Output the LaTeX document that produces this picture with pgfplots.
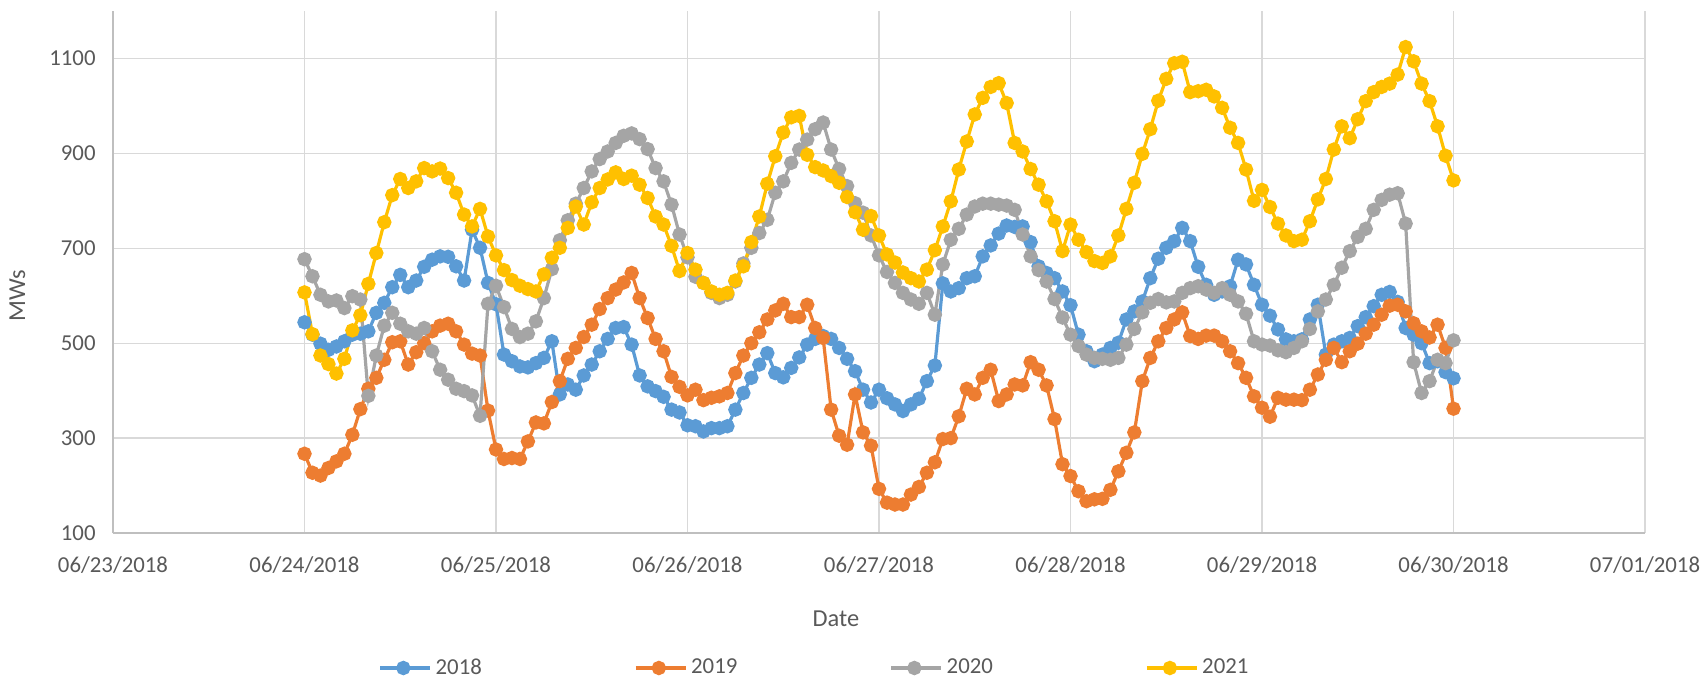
\documentclass[border=0pt]{standalone}
\usepackage{pgfplots}
\usepackage{pgfplotstable}
\pgfplotsset{compat=1.18}
\usepackage{fontspec}
\setmainfont{Carlito}
\definecolor{c18}{HTML}{5B9BD5}
\definecolor{c19}{HTML}{ED7D31}
\definecolor{c20}{HTML}{A5A5A5}
\definecolor{c21}{HTML}{FFC000}
\definecolor{gridc}{HTML}{D9D9D9}
\definecolor{axisc}{HTML}{BFBFBF}
\definecolor{tickc}{HTML}{595959}
\pgfplotstableread{
h a b c d
0 544 267 677 607
1 518 227 641 519
2 499 221 602 474
3 486 237 588 456
4 493 251 590 436
5 504 267 574 467
6 518 307 599 527
7 520 361 592 559
8 525 404 389 625
9 564 427 474 690
10 585 465 537 755
11 618 502 564 812
12 644 504 541 846
13 618 455 525 827
14 632 481 520 841
15 661 500 532 869
16 676 525 483 862
17 683 537 444 868
18 682 541 423 848
19 662 525 404 817
20 632 497 399 771
21 739 478 390 746
22 701 474 347 783
23 627 358 583 725
24 582 276 621 685
25 476 256 576 654
26 462 258 530 633
27 451 256 513 621
28 449 293 520 614
29 458 333 546 609
30 469 331 595 645
31 504 376 656 680
32 392 420 717 701
33 413 467 759 743
34 402 490 794 788
35 432 513 827 750
36 455 539 862 797
37 483 572 888 827
38 509 595 904 845
39 532 613 922 860
40 534 628 937 846
41 497 648 942 853
42 432 595 930 834
43 409 553 909 806
44 399 509 869 767
45 387 483 841 750
46 360 429 792 705
47 354 408 729 652
48 327 390 681 690
49 325 402 640 655
50 314 380 627 627
51 321 385 606 609
52 321 388 595 602
53 325 395 602 606
54 360 437 630 632
55 395 474 668 662
56 427 500 701 713
57 455 523 732 767
58 479 550 760 836
59 437 569 817 894
60 428 583 841 944
61 448 555 880 976
62 470 555 908 979
63 497 581 929 897
64 509 532 951 871
65 515 511 965 864
66 509 360 908 852
67 490 305 867 838
68 467 286 831 808
69 441 392 795 776
70 402 312 775 739
71 375 284 727 768
72 402 193 685 727
73 384 164 650 687
74 371 160 627 670
75 357 160 606 649
76 371 181 592 637
77 383 197 583 630
78 420 227 606 655
79 453 249 560 696
80 626 298 666 746
81 609 300 718 799
82 616 346 741 866
83 637 404 771 925
84 641 392 788 982
85 683 427 794 1017
86 706 444 794 1040
87 731 378 792 1048
88 748 392 790 1006
89 745 413 781 922
90 746 411 729 904
91 713 460 683 867
92 662 444 654 834
93 648 411 630 799
94 637 340 593 757
95 609 245 554 694
96 580 220 518 750
97 518 188 494 718
98 483 167 476 692
99 462 171 469 673
100 476 172 467 669
101 490 191 465 683
102 501 230 469 727
103 550 269 497 783
104 567 312 530 838
105 588 420 565 899
106 637 469 585 951
107 678 504 593 1011
108 701 532 586 1057
109 715 550 588 1090
110 743 565 606 1093
111 715 515 616 1029
112 661 509 620 1031
113 623 516 613 1034
114 602 516 606 1020
115 609 504 616 996
116 620 483 602 954
117 676 458 588 922
118 666 427 562 866
119 623 388 504 800
120 581 364 497 823
121 558 345 495 787
122 529 385 485 752
123 508 381 481 727
124 504 381 490 715
125 508 380 504 718
126 550 402 530 757
127 581 434 567 803
128 476 465 592 846
129 497 490 623 908
130 504 460 659 957
131 511 483 694 932
132 536 499 724 972
133 555 520 741 1010
134 578 539 781 1029
135 602 560 802 1040
136 608 579 813 1047
137 587 581 816 1066
138 532 567 752 1124
139 518 542 460 1094
140 500 525 395 1047
141 458 512 420 1010
142 462 539 465 957
143 439 490 458 895
144 426 362 506 843
}\data

\begin{document}
\begin{tikzpicture}
\useasboundingbox (-56.5pt,-73.8pt) rectangle (797pt,266.5pt);
\begin{axis}[
  at={(0pt,0pt)}, anchor=south west,
  width=766pt, height=261pt, scale only axis,
  xmin=-24, xmax=168, ymin=100, ymax=1200,
  xtick={-24,0,24,48,72,96,120,144,168},
  xticklabels={06/23/2018,06/24/2018,06/25/2018,06/26/2018,06/27/2018,06/28/2018,06/29/2018,06/30/2018,07/01/2018},
  ytick={100,300,500,700,900,1100},
  yticklabels={100,300,500,700,900,1100},
  axis x line*=bottom, axis y line*=left,
  axis line style={color=axisc, line width=0.65pt},
  grid=major,
  major grid style={color=gridc, line width=0.65pt},
  major tick length=0pt,
  tick style={draw=none},
  ticklabel style={font=\fontsize{11.4}{13.5}\selectfont, text=tickc},
  yticklabel style={anchor=east, inner sep=0pt, xshift=-8.5pt},
  xticklabel style={anchor=base, inner sep=0pt, yshift=-19.5pt},
  xlabel={Date}, ylabel={MWs},
  label style={font=\fontsize{12.2}{14.5}\selectfont, text=tickc},
  xlabel style={at={(axis description cs:0.4719,-0.1648)}, anchor=center},
  ylabel style={at={(axis description cs:-0.0624,0.4548)}, anchor=center},
  legend columns=4,
  legend style={at={(0.1732,-0.2586)}, anchor=west, draw=none, fill=none,
    inner sep=0pt, font=\fontsize{11.4}{13.5}\selectfont, text=tickc,
    /tikz/every even column/.append style={column sep=74.2pt}},
  legend image code/.code={\path (0pt,0pt) -- (24.85pt,0pt);\draw[mark repeat=2,mark phase=2,#1] plot coordinates {(0pt,0pt) (11.5pt,0pt) (23pt,0pt)};},
  every axis plot/.append style={line width=1.6pt, mark=*, mark size=2.8pt, mark options={solid, line width=0.75pt}},
]
\addplot[color=c18, mark options={fill=c18}] table[x=h, y=a] {\data};
\addlegendentry{2018}
\addplot[color=c19, mark options={fill=c19}] table[x=h, y=b] {\data};
\addlegendentry{2019}
\addplot[color=c20, mark options={fill=c20}] table[x=h, y=c] {\data};
\addlegendentry{2020}
\addplot[color=c21, mark options={fill=c21}] table[x=h, y=d] {\data};
\addlegendentry{2021}
\end{axis}
\end{tikzpicture}
\end{document}
